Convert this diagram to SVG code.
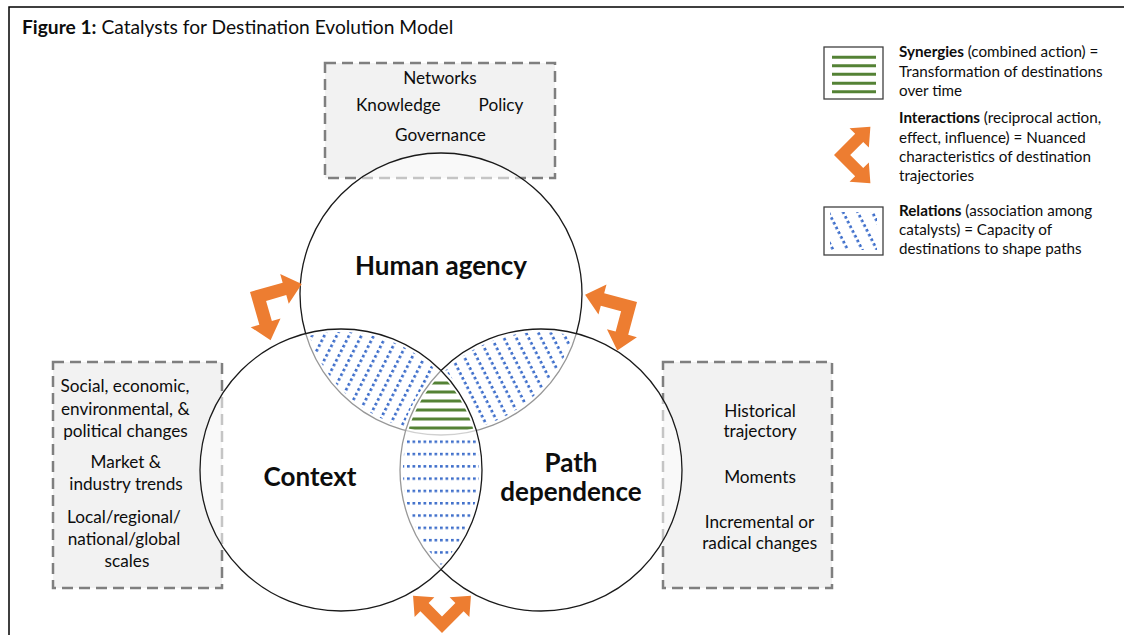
<svg xmlns="http://www.w3.org/2000/svg" width="1124" height="635" viewBox="0 0 1124 635">
<style>
text{font-family:Lato,"Liberation Sans",sans-serif;fill:#0d0d0d}
.box{fill:#f2f2f2;stroke:#7f7f7f;stroke-width:2.5;stroke-dasharray:11 6}
.c{fill:#fff;fill-opacity:0.55;stroke:#1a1a1a;stroke-width:1.3}
.bt{font-size:17.2px;text-anchor:middle}
.big{font-size:26px;font-weight:bold;text-anchor:middle}
.lg{font-size:15.2px}
.arr{fill:#ED7D31}
.grn{stroke:#548235;stroke-width:3}
.lgbox{fill:#fff;stroke:#404040;stroke-width:1.3}
</style>
<defs>
<path id="arrow" d="M0,0 L34,0 L34,-9 L52,6.5 L34,22 L34,13 L13,13 L13,34 L22,34 L6.5,52 L-9,34 L0,34 Z"/>
<pattern id="dotsL" patternUnits="userSpaceOnUse" width="5.3" height="11" patternTransform="rotate(-63)"><rect width="2.7" height="2.7" fill="#3F6FCB"/></pattern>
<pattern id="dotsR" patternUnits="userSpaceOnUse" width="5.3" height="11" patternTransform="rotate(63)"><rect width="2.7" height="2.7" fill="#3F6FCB"/></pattern>
<pattern id="dotsLeg" patternUnits="userSpaceOnUse" width="5.3" height="13" patternTransform="translate(830,212) rotate(63)"><rect width="2.7" height="2.7" fill="#3F6FCB"/></pattern>
<pattern id="dotsH" patternUnits="userSpaceOnUse" width="5.5" height="12.3" patternTransform="translate(0,440.5)"><rect width="2.7" height="2.5" fill="#3F6FCB"/></pattern>
<mask id="mUL" maskUnits="userSpaceOnUse" x="0" y="0" width="1124" height="635"><path d="M305.6,333.5 A141,141 0 0 1 441,370.6 A141,141 0 0 0 405.6,430.5 A141,141 0 0 1 305.6,333.5 Z" fill="#fff" stroke="#000" stroke-width="6"/></mask>
<mask id="mUR" maskUnits="userSpaceOnUse" x="0" y="0" width="1124" height="635"><path d="M576.4,333.5 A141,141 0 0 0 441,370.6 A141,141 0 0 1 476.4,430.5 A141,141 0 0 0 576.4,333.5 Z" fill="#fff" stroke="#000" stroke-width="6"/></mask>
<mask id="mB" maskUnits="userSpaceOnUse" x="0" y="0" width="1124" height="635"><path d="M405.6,430.5 A141,141 0 0 0 441,569.4 A141,141 0 0 0 476.4,430.5 A141,141 0 0 1 405.6,430.5 Z" fill="#fff" stroke="#000" stroke-width="6"/></mask>
<mask id="mC" maskUnits="userSpaceOnUse" x="0" y="0" width="1124" height="635"><path d="M441,370.6 A141,141 0 0 1 476.4,430.5 A141,141 0 0 1 405.6,430.5 A141,141 0 0 1 441,370.6 Z" fill="#fff" stroke="#000" stroke-width="5"/></mask>
<mask id="mLeg" maskUnits="userSpaceOnUse" x="0" y="0" width="1124" height="635"><rect x="830" y="212" width="47" height="38" fill="#fff"/></mask>
</defs>

<path id="frame" d="M9,635 V7 H1124" fill="none" stroke="#000" stroke-width="1.5"/>

<text id="title" x="22" y="34" font-size="19.2"><tspan font-weight="bold">Figure 1:</tspan> Catalysts for Destination Evolution Model</text>

<g id="box-human-agency-factors">
<rect class="box" x="325" y="63" width="230" height="115"/>
<text class="bt" x="440" y="84.3">Networks</text>
<text class="bt" x="398.3" y="111">Knowledge</text>
<text class="bt" x="501" y="111">Policy</text>
<text class="bt" x="440.5" y="141">Governance</text>
</g>
<g id="box-context-factors">
<rect class="box" x="53" y="362" width="169" height="226"/>
<text class="bt" x="125" y="391.7">Social, economic,</text>
<text class="bt" x="125.3" y="415">environmental, &amp;</text>
<text class="bt" x="125.5" y="437.3">political changes</text>
<text class="bt" x="125.8" y="468.3">Market &amp;</text>
<text class="bt" x="126" y="490">industry trends</text>
<text class="bt" x="124" y="522.7">Local/regional/</text>
<text class="bt" x="124" y="545">national/global</text>
<text class="bt" x="127" y="567.3">scales</text>
</g>
<g id="box-path-factors">
<rect class="box" x="663" y="362" width="169" height="226"/>
<text class="bt" x="760" y="416.7">Historical</text>
<text class="bt" x="760" y="437.3">trajectory</text>
<text class="bt" x="760" y="483.3">Moments</text>
<text class="bt" x="759.5" y="528.3">Incremental or</text>
<text class="bt" x="759.7" y="549.3">radical changes</text>
</g>

<g id="circle-human-agency"><circle class="c" cx="441" cy="294" r="141"/></g>
<g id="circle-path-dependence"><circle class="c" cx="541" cy="470" r="141"/></g>
<g id="circle-context"><circle class="c" cx="341" cy="470" r="141"/></g>

<g id="overlaps">
<rect x="290" y="320" width="200" height="120" fill="url(#dotsL)" mask="url(#mUL)"/>
<rect x="400" y="320" width="200" height="120" fill="url(#dotsR)" mask="url(#mUR)"/>
<rect x="390" y="425" width="100" height="150" fill="url(#dotsH)" mask="url(#mB)"/>
<g mask="url(#mC)">
<line class="grn" x1="395" y1="383" x2="490" y2="383"/>
<line class="grn" x1="395" y1="392" x2="490" y2="392"/>
<line class="grn" x1="395" y1="401" x2="490" y2="401"/>
<line class="grn" x1="395" y1="410" x2="490" y2="410"/>
<line class="grn" x1="395" y1="419" x2="490" y2="419"/>
<line class="grn" x1="395" y1="428" x2="490" y2="428"/>
</g>
</g>

<text class="big" x="441" y="275">Human agency</text>
<text class="big" x="310" y="486">Context</text>
<text class="big" x="571" y="472">Path</text>
<text class="big" x="571" y="501">dependence</text>

<g id="connectors">
<use href="#arrow" class="arr" transform="translate(250,292) rotate(-16)"/>
<use href="#arrow" class="arr" transform="translate(637,302) rotate(15) scale(-1,1)"/>
<use href="#arrow" class="arr" transform="translate(442,633) rotate(-135) scale(0.9)"/>
</g>

<g id="legend">
<g id="legend-synergies">
<rect class="lgbox" x="824" y="47" width="59" height="52"/>
<line class="grn" x1="832" y1="57.3" x2="876" y2="57.3"/>
<line class="grn" x1="832" y1="65.7" x2="876" y2="65.7"/>
<line class="grn" x1="832" y1="74.3" x2="876" y2="74.3"/>
<line class="grn" x1="832" y1="83.3" x2="876" y2="83.3"/>
<line class="grn" x1="832" y1="91.7" x2="876" y2="91.7"/>
<text class="lg" x="899" y="57"><tspan font-weight="bold">Synergies</tspan> (combined action) =</text>
<text class="lg" x="899" y="76.7">Transformation of destinations</text>
<text class="lg" x="899" y="95.5">over time</text>
</g>
<g id="legend-interactions">
<use href="#arrow" class="arr" transform="translate(834,155) rotate(-45) scale(0.88)"/>
<text class="lg" x="899" y="123.3"><tspan font-weight="bold">Interactions</tspan> (reciprocal action,</text>
<text class="lg" x="899" y="142.7">effect, influence) = Nuanced</text>
<text class="lg" x="899" y="161.7">characteristics of destination</text>
<text class="lg" x="899" y="180.5">trajectories</text>
</g>
<g id="legend-relations">
<rect class="lgbox" x="824" y="207" width="59" height="48"/>
<rect x="824" y="207" width="59" height="48" fill="url(#dotsLeg)" mask="url(#mLeg)"/>
<text class="lg" x="899" y="215.7"><tspan font-weight="bold">Relations</tspan> (association among</text>
<text class="lg" x="899" y="235">catalysts) = Capacity of</text>
<text class="lg" x="899" y="253.5">destinations to shape paths</text>
</g>
</g>
</svg>
